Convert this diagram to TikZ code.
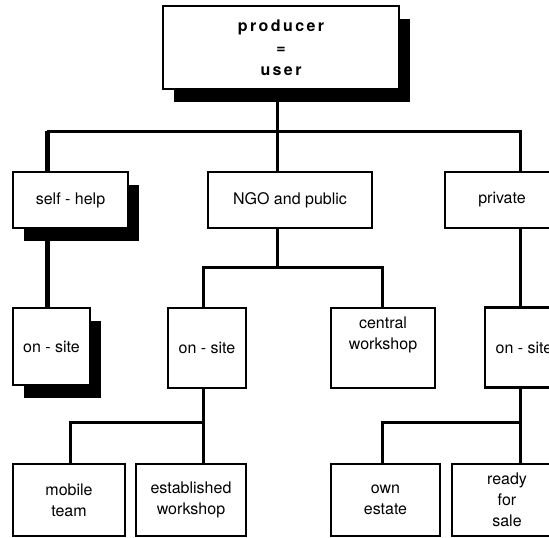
\documentclass[tikz,border=0pt]{standalone}
\usepackage{fontspec}
\setmainfont{TeX Gyre Heros}
\usetikzlibrary{shadows,backgrounds}
\begin{document}
\begin{tikzpicture}[x=1pt,y=-1pt,
  box/.style={draw=black, line width=2.2pt, fill=white, align=center, inner sep=0pt,
              font=\fontsize{16}{21}\selectfont},
  shadowed/.style={drop shadow={shadow xshift=11pt, shadow yshift=-13pt, fill=black, opacity=1}},
  conn/.style={draw=black, line width=3pt},
  heavy/.style={draw=black, line width=5pt}]
\useasboundingbox (0,0) rectangle (549,538);
\clip (0,0) rectangle (549,538);

% level 0
\node[box, shadowed, minimum width=236pt, minimum height=83pt,
      font=\fontsize{16}{22}\selectfont\bfseries\addfontfeature{LetterSpace=15}]
      (top) at (281,47.5) {producer\\=\\user};

% level 1
\node[box, shadowed, minimum width=115pt, minimum height=56pt] (selfhelp) at (70.5,200) {self - help};
\node[box, minimum width=164pt, minimum height=56pt] (ngo) at (290,200) {NGO and public};
\node[box, minimum width=114pt, minimum height=56pt] (private) at (502,200) {private};

% level 2
\node[box, shadowed, minimum width=77pt, minimum height=77pt] (os1) at (51.5,346.5) {on - site};
\node[box, minimum width=78pt, minimum height=80pt] (os2) at (207,348) {on - site};
\node[box, minimum width=104pt, minimum height=80pt, text depth=30pt] (central) at (383,348) {central\\workshop};
\node[box, minimum width=78pt, minimum height=80pt] (os3) at (524,347.5) {on - site};

% level 3
\node[box, minimum width=112pt, minimum height=72pt] (mobile) at (69,500) {mobile\\team};
\node[box, minimum width=110pt, minimum height=72pt] (established) at (191,500) {established\\workshop};
\node[box, minimum width=109pt, minimum height=72pt] (own) at (385.5,500) {own\\estate};
\node[box, minimum width=110pt, minimum height=72pt] (ready) at (507,500) {ready\\for\\sale};

% bend points of the connectors
\coordinate (b1L) at (47,131);
\coordinate (b1M) at (277,131);
\coordinate (b1R) at (520,131);
\coordinate (b2L) at (203,267);
\coordinate (b2M) at (277,267);
\coordinate (b2R) at (382,267);
\coordinate (b3L) at (70,422);
\coordinate (b3R) at (203,422);
\coordinate (b4L) at (382,422);
\coordinate (b4R) at (520,422);

\begin{scope}[on background layer]
  % from the top box to the three sectors
  \draw[conn] (top.south -| b1M) -- (b1M) -- (ngo.north -| b1M);
  \draw[conn] (b1L) -- (b1R) -- (private.north -| b1R);
  \draw[heavy] (b1L) -- (selfhelp.north -| b1L);
  \draw[heavy] (selfhelp.south -| b1L) -- (os1.north -| b1L);
  % NGO and public
  \draw[conn] (ngo.south -| b2M) -- (b2M);
  \draw[conn] (os2.north -| b2L) -- (b2L) -- (b2R) -- (central.north -| b2R);
  % private
  \draw[conn] (private.south -| b1R) -- (os3.north -| b1R);
  % on-site of NGO and public
  \draw[conn] (os2.south -| b3R) -- (established.north -| b3R);
  \draw[conn] (b3R) -- (b3L) -- (mobile.north -| b3L);
  % on-site of private
  \draw[conn] (os3.south -| b4R) -- (ready.north -| b4R);
  \draw[conn] (b4R) -- (b4L) -- (own.north -| b4L);
\end{scope}
\end{tikzpicture}
\end{document}
